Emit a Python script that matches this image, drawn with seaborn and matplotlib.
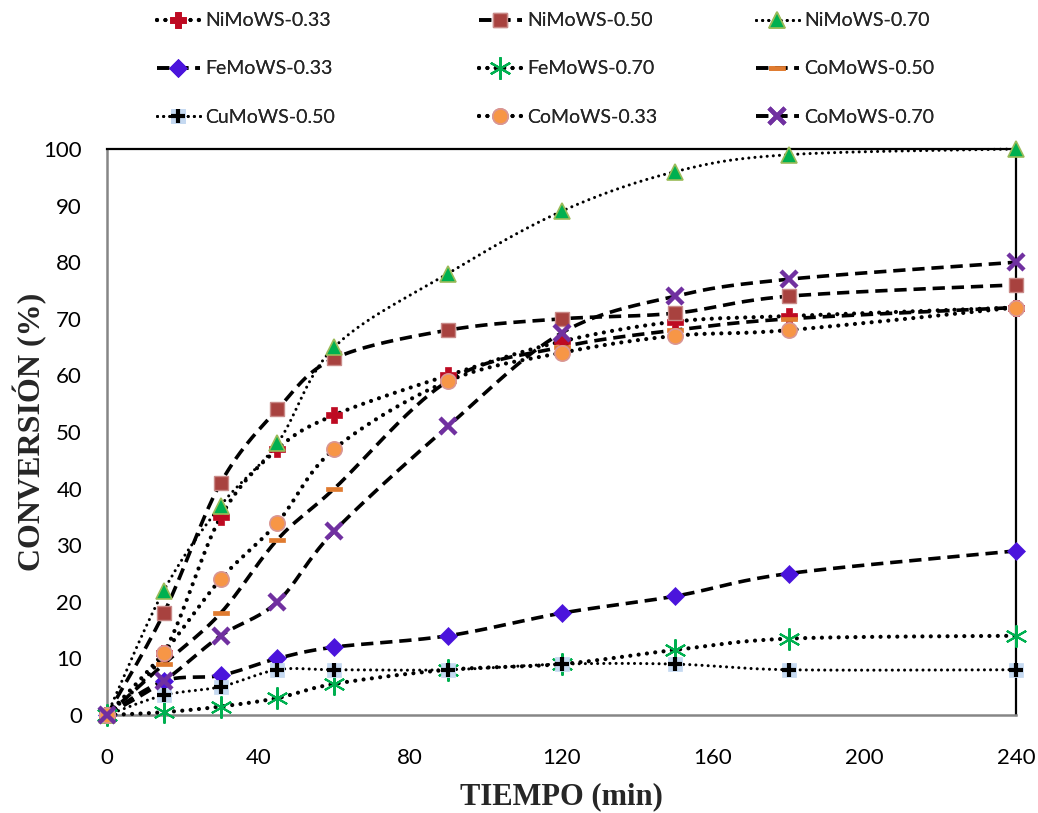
import numpy as np
import matplotlib
matplotlib.use("Agg")
import matplotlib.pyplot as plt
from matplotlib.lines import Line2D
import seaborn as sns
import pandas as pd

# Reaction time (min)
tiempo = [0, 15, 30, 45, 60, 90, 120, 150, 180, 240]

# Conversion (%) for each catalyst
nimows_033 = [0, 11, 35, 47, 53, 60, 66, 69.5, 70.5, 72]
nimows_050 = [0, 18, 41, 54, 63, 68, 70, 71, 74, 76]
nimows_070 = [0, 22, 37, 48, 65, 78, 89, 96, 99, 100]
femows_033 = [0, 6, 7, 10, 12, 14, 18, 21, 25, 29]
femows_070 = [0, 0.5, 1.5, 3, 5.5, 8, 9, 11.5, 13.5, 14]
comows_050 = [0, 9, 18, 31, 40, 59, 65, 68, 70, 72]
cumows_050 = [0, 3.5, 5, 8, 8, 8, 9, 9, 8, 8]
comows_033 = [0, 11, 24, 34, 47, 59, 64, 67, 68, 72]
comows_070 = [0, 6, 14, 20, 32.5, 51, 67.5, 74, 77, 80]

labels = ["NiMoWS-0.33", "NiMoWS-0.50", "NiMoWS-0.70", "FeMoWS-0.33",
          "FeMoWS-0.70", "CoMoWS-0.50", "CuMoWS-0.50", "CoMoWS-0.33",
          "CoMoWS-0.70"]
series = [nimows_033, nimows_050, nimows_070, femows_033, femows_070,
          comows_050, cumows_050, comows_033, comows_070]

sns.set_style("white")
plt.rcParams["font.family"] = ["Lato", "DejaVu Sans"]

DOT = dict(linestyle=(0, (0.01, 2.0)), linewidth=3.0, dash_capstyle="round")
FINE = dict(linestyle=(0, (0.01, 2.0)), linewidth=2.2, dash_capstyle="round")
DASH = dict(linestyle=(0, (3.4, 1.9)), linewidth=2.6, dash_capstyle="butt")

bar_marker = [(-1, -0.32), (1, -0.32), (1, 0.32), (-1, 0.32), (-1, -0.32)]

# each marker is a list of layers drawn on top of each other
styles = [
    dict(line=DOT, m=[dict(marker="P", ms=11, mfc="#BE0A22", mec="#BE0A22", mew=0.5)]),
    dict(line=DASH, m=[dict(marker="s", ms=10, mfc="#A8423F", mec="#C98A88", mew=1)]),
    dict(line=FINE, m=[dict(marker="^", ms=11, mfc="#00B050", mec="#9BBB59", mew=1.2)]),
    dict(line=DASH, m=[dict(marker="D", ms=9, mfc="#4B14DC", mec="#4B14DC", mew=0.5)]),
    dict(line=DOT, m=[dict(marker=(6, 2, 0), ms=16, mfc="none", mec="#00B050", mew=1.5)]),
    dict(line=DASH, m=[dict(marker=bar_marker, ms=11, mfc="#E07B2F", mec="#E07B2F", mew=0.5)]),
    dict(line=FINE, m=[dict(marker="s", ms=10, mfc="#C5D9F1", mec="#C5D9F1", mew=0.5),
                       dict(marker="+", ms=10, mfc="black", mec="black", mew=3)]),
    dict(line=DOT, m=[dict(marker="o", ms=11, mfc="#F79646", mec="#D99694", mew=1.2)]),
    dict(line=DASH, m=[dict(marker="x", ms=12, mfc="#7030A0", mec="#7030A0", mew=3.2)]),
]


def smooth(x, y, n=30):
    """Bezier smoothing through the points (control arms = neighbour chord / 6)."""
    p = np.column_stack([x, y]).astype(float)
    ext = np.vstack([p[0], p, p[-1]])
    out = []
    t = np.linspace(0, 1, n)[:, None]
    for i in range(len(p) - 1):
        b0 = ext[i + 1]
        b3 = ext[i + 2]
        b1 = b0 + (ext[i + 2] - ext[i]) / 6.0
        b2 = b3 - (ext[i + 3] - ext[i + 1]) / 6.0
        seg = ((1 - t) ** 3) * b0 + 3 * ((1 - t) ** 2) * t * b1 \
            + 3 * (1 - t) * t ** 2 * b2 + t ** 3 * b3
        out.append(seg if i == 0 else seg[1:])
    c = np.vstack(out)
    return c[:, 0], c[:, 1]


fig = plt.figure(figsize=(10.38, 8.13), dpi=100)
ax = fig.add_axes([0.1031, 0.1205, 0.8757, 0.6962])

handles = {}
for lab, vals, st in zip(labels, series, styles):
    sx, sy = smooth(tiempo, vals)
    df = pd.DataFrame({"t": sx, "c": sy})
    sns.lineplot(data=df, x="t", y="c", ax=ax, color="black", sort=False,
                 estimator=None, zorder=3, clip_on=False, **st["line"])
for lab, vals, st in zip(labels, series, styles):
    parts = []
    for k, layer in enumerate(st["m"]):
        ax.plot(tiempo, vals, linestyle="none", zorder=5, clip_on=False, **layer)
        if k == 0:
            parts.append(Line2D([], [], color="black", **st["line"], **layer))
        else:
            parts.append(Line2D([], [], linestyle="none", **layer))
    handles[lab] = tuple(parts) if len(parts) > 1 else parts[0]

ax.set_xlim(0, 240)
ax.set_ylim(0, 100)
ax.set_xticks(np.arange(0, 241, 40))
ax.set_yticks(np.arange(0, 101, 10))

grey = "#868686"
for side in ("left", "bottom"):
    ax.spines[side].set_color(grey)
    ax.spines[side].set_linewidth(1.8)
for side in ("top", "right"):
    ax.spines[side].set_color("black")
    ax.spines[side].set_linewidth(1.6)
ax.spines["left"].set_zorder(2)

ax.tick_params(axis="both", which="both", direction="out", color=grey,
               width=1.2, labelsize=16, labelcolor="black")
ax.tick_params(axis="x", length=6, pad=18)
ax.tick_params(axis="y", length=6, pad=12)

serif = ["Liberation Serif", "DejaVu Serif"]
ax.set_xlabel("TIEMPO (min)", fontsize=22, fontweight="bold", family=serif)
ax.set_ylabel("CONVERSIÓN (%)", fontsize=23, fontweight="bold", family=serif)
ax.xaxis.label.set_va("center")
ax.yaxis.label.set_va("center")
ax.xaxis.set_label_coords(0.5, -0.145)
ax.yaxis.set_label_coords(-0.085, 0.5)

# legend: three columns, each read top to bottom
columns = [[labels[0], labels[3], labels[6]],
           [labels[1], labels[4], labels[7]],
           [labels[2], labels[5], labels[8]]]
col_x = [157 / 1038, 479 / 1038, 756 / 1038]
for names, x0 in zip(columns, col_x):
    leg = fig.legend([handles[k] for k in names], names, loc="center left",
                     bbox_to_anchor=(x0, 1 - 69 / 813), frameon=False,
                     fontsize=14, handlelength=2.2, handletextpad=0.3,
                     labelspacing=1.6, borderpad=0, borderaxespad=0)
    fig.add_artist(leg)

fig.savefig("out.png", dpi=100)
